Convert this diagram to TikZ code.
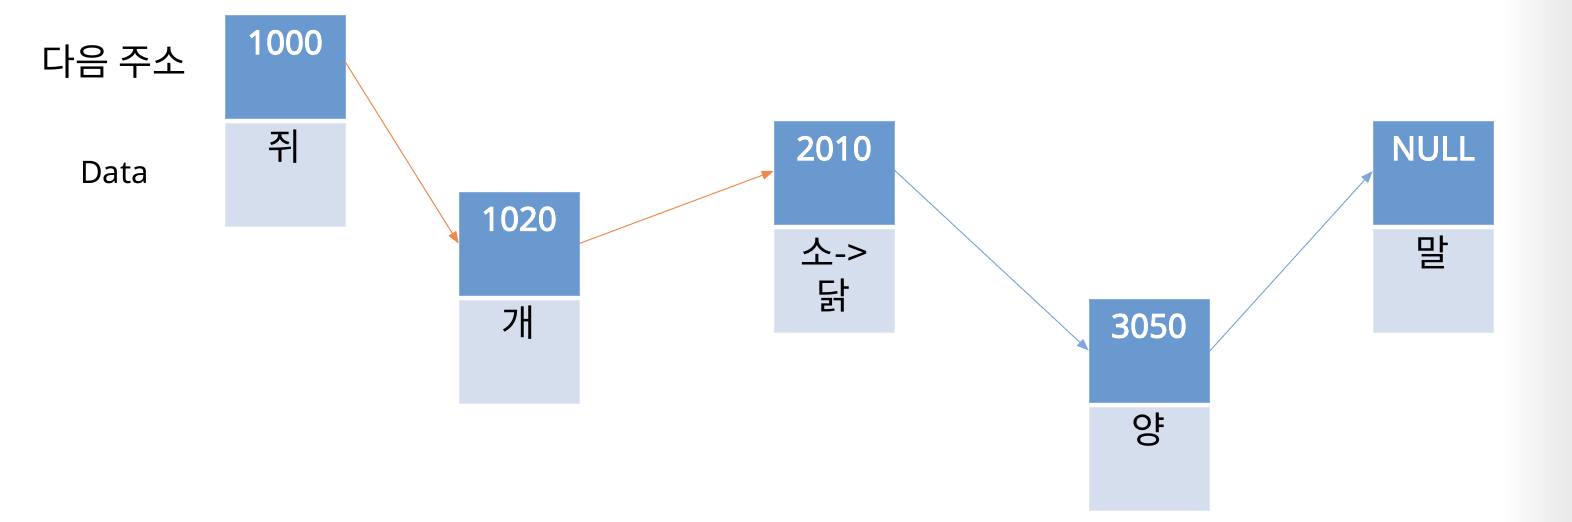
\documentclass[tikz,border=0pt]{standalone}
\usepackage{fontspec}
\setmainfont{Noto Sans}
\newfontfamily\krfont{Noto Sans CJK KR}
\newfontfamily\numfont{Noto Sans}[FakeBold=3]
\usetikzlibrary{arrows.meta}
\definecolor{addrblue}{HTML}{6A99D0}
\definecolor{datablue}{HTML}{D4DEED}
\definecolor{arrorange}{HTML}{EE8A4A}
\definecolor{arrblue}{HTML}{7FA7D9}
\tikzset{
  addrbox/.style={rectangle, fill=addrblue, draw=addrblue!80!white, line width=0.6pt, minimum width=120pt, minimum height=103pt, inner sep=0pt},
  databox/.style={rectangle, fill=datablue, draw=datablue!70!white, line width=0.6pt, minimum width=120pt, minimum height=103pt, inner sep=0pt},
  numtext/.style={anchor=base, inner sep=0pt, text=white, font=\numfont\fontsize{33}{36}\selectfont},
  krtext/.style={anchor=base, inner sep=0pt, text=black, font=\krfont\fontsize{37}{40}\selectfont},
  lattext/.style={anchor=base, inner sep=0pt, text=black, font=\fontsize{31}{34}\selectfont},
  orangearrow/.style={draw=arrorange, line width=1pt, -{Triangle[length=12pt,width=9pt]}},
  bluearrow/.style={draw=arrblue, line width=1pt, -{Triangle[length=12pt,width=9pt]}},
}
\begin{document}
\begin{tikzpicture}[x=1pt,y=-1pt]
\useasboundingbox (0,0) rectangle (1572,522);
\fill[white] (0,0) rectangle (1572,522);
\shade[left color=white, right color=black!9] (1500,0) rectangle (1572,522);

% left labels
\node[krtext] (lblnext) at (114,75) {다음 주소};
\node[lattext] (lbldata) at (114.5,183) {Data};

% nodes
\node[addrbox] (a1) at (285,67) {};
\node[databox] (d1) at (285,175) {};
\node[addrbox] (a2) at (519,243.5) {};
\node[databox] (d2) at (519,351.5) {};
\node[addrbox] (a3) at (834,173) {};
\node[databox] (d3) at (834,281) {};
\node[addrbox] (a4) at (1149,350.5) {};
\node[databox] (d4) at (1149,458.5) {};
\node[addrbox] (a5) at (1433,173) {};
\node[databox] (d5) at (1433,281) {};

% address texts
\node[numtext] (t1) at ([yshift=-39pt]a1.north) {1000};
\node[numtext] (t2) at ([yshift=-39pt]a2.north) {1020};
\node[numtext] (t3) at ([yshift=-39pt]a3.north) {2010};
\node[numtext] (t4) at ([yshift=-39pt]a4.north) {3050};
\node[numtext] (t5) at ([yshift=-39pt]a5.north) {NULL};

% data texts
\node[krtext] (v1) at ([yshift=-37pt]d1.north) {쥐};
\node[krtext] (v2) at ([yshift=-37pt]d2.north) {개};
\node[krtext] (v3a) at ([yshift=-37pt]d3.north) {소->};
\node[krtext] (v3b) at ([yshift=-80pt]d3.north) {닭};
\node[krtext] (v4) at ([yshift=-37pt]d4.north) {양};
\node[krtext] (v5) at ([yshift=-37pt]d5.north) {말};

% connectors
\draw[orangearrow] ([yshift=5pt]a1.east) -- (a2.west);
\draw[orangearrow] (a2.east) -- ([yshift=2pt]a3.west);
\draw[bluearrow] ([yshift=3pt]a3.east) -- (a4.west);
\draw[bluearrow] ([yshift=-1pt]a4.east) -- ([yshift=2pt]a5.west);
\end{tikzpicture}
\end{document}
